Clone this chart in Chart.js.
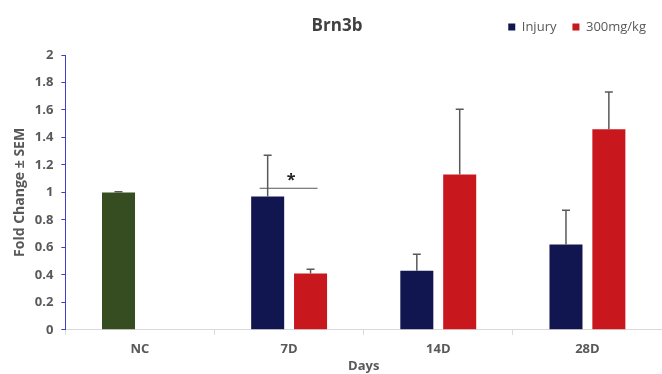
<!DOCTYPE html>
<html>
<head>
<meta charset="utf-8">
<script src="https://cdn.jsdelivr.net/npm/chart.js@4"></script>
<style>
  html, body { margin: 0; padding: 0; background: #fff; }
  #wrap { width: 662px; height: 374px; position: relative; }
</style>
</head>
<body>
<div id="wrap"><canvas id="brn3b-chart"></canvas></div>
<script>
const categories = ['NC', '7D', '14D', '28D'];
const seriesNames = ['Injury', '300mg/kg'];
const injury = [1.0, 0.97, 0.43, 0.62];
const injurySem = [0.005, 0.30, 0.12, 0.25];
const dose = [null, 0.41, 1.13, 1.46];
const doseSem = [null, 0.03, 0.475, 0.27];
const sigCategory = '7D';
const sigLevel = 1.03;
const sigLabel = '*';

const colorNC = '#364d21';
const colorInjury = '#121650';
const colorDose = '#c8171d';
const textGray = '#595959';

const chartEl = document.querySelector('#brn3b-chart');

// bar colours: first Injury bar (NC) is the green control
const injuryColors = categories.map((c, i) => i === 0 ? colorNC : colorInjury);
const legendColors = [colorInjury, colorDose];
const sems = [injurySem, doseSem];

// upward-only SEM whiskers + significance bracket
const errorBars = {
  id: 'errorBars',
  afterDatasetsDraw(chart) {
    const ctx = chart.ctx;
    const y = chart.scales.y;
    ctx.save();
    ctx.strokeStyle = textGray;
    ctx.lineWidth = 1.5;
    chart.data.datasets.forEach((ds, i) => {
      const meta = chart.getDatasetMeta(i);
      meta.data.forEach((bar, j) => {
        const v = ds.data[j];
        const s = sems[i][j];
        if (v == null || s == null) return;
        const top = y.getPixelForValue(v + s);
        ctx.beginPath();
        ctx.moveTo(bar.x, bar.y);
        ctx.lineTo(bar.x, top);
        ctx.moveTo(bar.x - 4, top);
        ctx.lineTo(bar.x + 4, top);
        ctx.stroke();
      });
    });

    const k = categories.indexOf(sigCategory);
    const a = chart.getDatasetMeta(0).data[k];
    const b = chart.getDatasetMeta(1).data[k];
    const sy = y.getPixelForValue(sigLevel);
    ctx.lineWidth = 1;
    ctx.beginPath();
    ctx.moveTo(a.x - 8, sy);
    ctx.lineTo(b.x + 7, sy);
    ctx.stroke();
    ctx.fillStyle = '#222';
    ctx.font = 'bold 16px "Open Sans"';
    ctx.textAlign = 'center';
    ctx.textBaseline = 'middle';
    ctx.fillText(sigLabel, (a.x + b.x) / 2 + 2, sy - 8);
    ctx.restore();
  }
};

new Chart(chartEl, {
  type: 'bar',
  data: {
    labels: categories,
    datasets: [{
      label: seriesNames[0],
      data: injury,
      backgroundColor: injuryColors,
      categoryPercentage: 0.575,
      barPercentage: 0.77
    }, {
      label: seriesNames[1],
      data: dose,
      backgroundColor: colorDose,
      categoryPercentage: 0.575,
      barPercentage: 0.77
    }]
  },
  options: {
    responsive: true,
    maintainAspectRatio: false,
    animation: false,
    layout: {
      padding: { left: 12, right: 0, top: 4.5, bottom: 0 }
    },
    scales: {
      x: {
        grid: {
          offset: true,
          drawOnChartArea: false,
          drawTicks: true,
          tickLength: 5,
          color: '#d9d9d9'
        },
        border: { color: '#d9d9d9' },
        ticks: {
          color: textGray,
          padding: 7,
          font: { family: 'Open Sans', size: 13, weight: 'bold' }
        },
        title: {
          display: true,
          text: 'Days',
          color: textGray,
          padding: { top: -6, bottom: 0 },
          font: { family: 'Open Sans', size: 13, weight: 'bold' }
        }
      },
      y: {
        min: 0,
        max: 2,
        ticks: {
          stepSize: 0.2,
          color: textGray,
          padding: 8,
          font: { family: 'Open Sans', size: 13, weight: 'bold' },
          callback: v => +v.toFixed(1)
        },
        grid: {
          drawOnChartArea: false,
          drawTicks: true,
          tickLength: 4,
          color: '#3f3fc8'
        },
        border: { color: '#3f3fc8' },
        title: {
          display: true,
          text: 'Fold Change ± SEM',
          color: textGray,
          padding: { top: 0, bottom: -2 },
          font: { family: 'Open Sans', size: 14, weight: 'bold' }
        }
      }
    },
    plugins: {
      // legend is laid out first (weight), title sits on the same line below it
      legend: {
        display: true,
        position: 'top',
        align: 'end',
        weight: 3000,
        labels: {
          color: textGray,
          boxWidth: 7,
          boxHeight: 7,
          padding: 16,
          font: { family: 'Open Sans', size: 13 },
          generateLabels: chart =>
            Chart.defaults.plugins.legend.labels.generateLabels(chart).map((l, i) => ({
              ...l,
              fillStyle: legendColors[i],
              strokeStyle: legendColors[i],
              lineWidth: 0
            }))
        }
      },
      title: {
        display: true,
        text: 'Brn3b',
        color: '#404040',
        padding: { top: -27.7, bottom: 18.8 },
        font: { family: 'Open Sans', size: 17, weight: 'bold' }
      },
      tooltip: { enabled: false }
    }
  },
  plugins: [errorBars]
});
</script>
</body>
</html>
